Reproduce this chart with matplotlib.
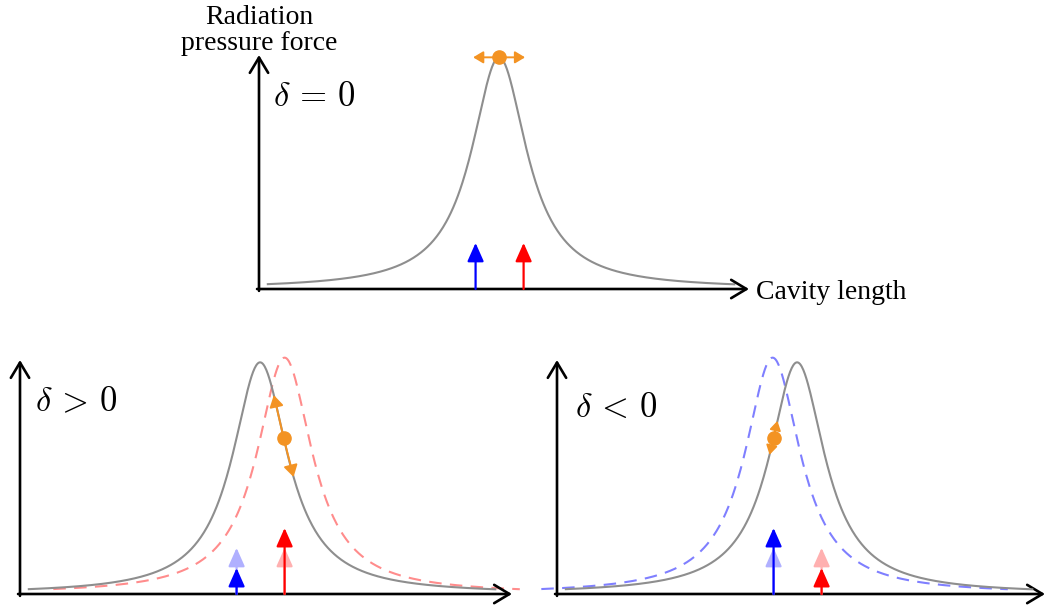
import numpy as np
import matplotlib
matplotlib.use("Agg")
import matplotlib.pyplot as plt

# ---------------- data ----------------
W, H = 1046, 609
PX_PER_UNIT = 49.0          # horizontal scale of each panel
# Lorentzian resonance parameters (data units)
center = 4.9
half_width = 0.69
peak_gray = 0.99
peak_shifted = 1.01
shift_pos = 0.5            # delta > 0 : resonance shifted right
shift_neg = -0.5           # delta < 0 : resonance shifted left
curve_span = (0.18, 9.7)   # x-range of the gray curve
# laser / sideband arrow positions (data units)
blue_x = 4.42
red_x = 5.40
arrow_base = 0.197         # unperturbed arrow height
# delta>0: blue weaker, red stronger ; delta<0: opposite
arrows_pos = {"blue": 0.111, "red": 0.282}
arrows_neg = {"blue": 0.282, "red": 0.111}
# operating points (height on gray curve)
dot_level = 0.667
dot_span_pos = (0.85, 0.50)
dot_span_neg = (0.74, 0.595)
top_dot_dx = 0.53

ORANGE = "#F39323"
GRAY = "#8e8e8e"
BLUE = "#0000ff"
RED = "#ff0000"
LIGHT_BLUE = "#b0b0ff"
LIGHT_RED = "#ffb0b0"

plt.rcParams["mathtext.fontset"] = "cm"
plt.rcParams["font.family"] = ["Liberation Serif", "DejaVu Serif"]

fig = plt.figure(figsize=(W / 100, H / 100), dpi=100)


def px_axes(left, bottom, right, top):
    ax = fig.add_axes([left / W, 1 - bottom / H, (right - left) / W, (bottom - top) / H])
    ax.set_xlim(0, (right - left) / PX_PER_UNIT)
    ax.set_ylim(0, 1)
    ax.axis("off")
    return ax


def lorentz(x, x0, h):
    return h / (1 + ((x - x0) / half_width) ** 2)


def inv_right(level, x0, h):
    return x0 + half_width * np.sqrt(h / level - 1)


def draw_axes_arrows(ax):
    kw = dict(arrowstyle="->,head_length=0.5,head_width=0.3", lw=1.9, color="k",
              shrinkA=0, shrinkB=0, mutation_scale=22)
    ax.annotate("", xy=(1, 0), xytext=(-0.004, 0), xycoords="axes fraction", arrowprops=kw)
    ax.annotate("", xy=(0, 1), xytext=(0, -0.008), xycoords="axes fraction", arrowprops=kw)


def up_arrow(ax, x, h, color, z=4):
    ax.annotate("", xy=(x, h), xytext=(x, 0), xycoords="data",
                arrowprops=dict(arrowstyle="-|>,head_length=0.45,head_width=0.2",
                                lw=1.6, color=color, shrinkA=0, shrinkB=0,
                                mutation_scale=25), annotation_clip=False, zorder=z)


def orange_arrow(ax, start, end, scale=14):
    ax.annotate("", xy=end, xytext=start, xycoords="data",
                arrowprops=dict(arrowstyle="-|>,head_length=0.5,head_width=0.3",
                                lw=1.4, color=ORANGE, shrinkA=0, shrinkB=0,
                                mutation_scale=scale), annotation_clip=False, zorder=4)


x = np.linspace(curve_span[0], curve_span[1], 600)
DASH = (0, (6, 4))

# ---------------- top panel ----------------
ax0 = px_axes(259, 289, 749, 55)
draw_axes_arrows(ax0)
ax0.plot(x, lorentz(x, center, peak_gray), color=GRAY, lw=1.5, clip_on=False)
up_arrow(ax0, blue_x, arrow_base, BLUE)
up_arrow(ax0, red_x, arrow_base, RED)
orange_arrow(ax0, (center, peak_gray), (center - top_dot_dx, peak_gray), 12)
orange_arrow(ax0, (center, peak_gray), (center + top_dot_dx, peak_gray), 12)
ax0.plot([center], [peak_gray], "o", color=ORANGE, ms=9.5, clip_on=False, zorder=5)
ax0.text(0.028, 0.78, r"$\delta \, = \, 0$", fontsize=25, transform=ax0.transAxes, va="baseline")

fig.text(259 / W, 1 - 24 / H, "Radiation", ha="center", va="baseline", fontsize=20)
fig.text(259 / W, 1 - 50 / H, "pressure force", ha="center", va="baseline", fontsize=20)
fig.text(756 / W, 1 - 299 / H, "Cavity length", ha="left", va="baseline", fontsize=20)

# ---------------- bottom-left panel (delta > 0) ----------------
ax1 = px_axes(20, 594, 512, 360)
draw_axes_arrows(ax1)
ax1.plot(x, lorentz(x, center, peak_gray), color=GRAY, lw=1.5, clip_on=False, zorder=3)
xs = x + shift_pos
ax1.plot(xs, lorentz(xs, center + shift_pos, peak_shifted), color=RED, alpha=0.45,
         lw=1.5, ls=DASH, clip_on=False, zorder=2)
up_arrow(ax1, blue_x, arrow_base, LIGHT_BLUE, 3.5)
up_arrow(ax1, red_x, arrow_base, LIGHT_RED, 3.5)
up_arrow(ax1, blue_x, arrows_pos["blue"], BLUE, 3.8)
up_arrow(ax1, red_x, arrows_pos["red"], RED, 3.8)
xd = inv_right(dot_level, center, peak_gray)
for lvl in dot_span_pos:
    orange_arrow(ax1, (xd, dot_level), (inv_right(lvl, center, peak_gray), lvl))
ax1.plot([xd], [dot_level], "o", color=ORANGE, ms=9.5, zorder=5)
ax1.text(0.03, 0.78, r"$\delta \, > \, 0$", fontsize=25, transform=ax1.transAxes, va="baseline")

# ---------------- bottom-right panel (delta < 0) ----------------
ax2 = px_axes(557, 594, 1045, 360)
draw_axes_arrows(ax2)
ax2.plot(x, lorentz(x, center, peak_gray), color=GRAY, lw=1.5, clip_on=False, zorder=3)
xs = x + shift_neg
ax2.plot(xs, lorentz(xs, center + shift_neg, peak_shifted), color=BLUE, alpha=0.5,
         lw=1.5, ls=DASH, clip_on=False, zorder=2)
up_arrow(ax2, blue_x, arrow_base, LIGHT_BLUE, 3.5)
up_arrow(ax2, red_x, arrow_base, LIGHT_RED, 3.5)
up_arrow(ax2, blue_x, arrows_neg["blue"], BLUE, 3.8)
up_arrow(ax2, red_x, arrows_neg["red"], RED, 3.8)
xd = 2 * center - inv_right(dot_level, center, peak_gray)
for lvl in dot_span_neg:
    orange_arrow(ax2, (xd, dot_level), (2 * center - inv_right(lvl, center, peak_gray), lvl), 11)
ax2.plot([xd], [dot_level], "o", color=ORANGE, ms=9.5, zorder=5)
ax2.text(0.037, 0.755, r"$\delta \, < \, 0$", fontsize=25, transform=ax2.transAxes, va="baseline")

fig.savefig("out.png", dpi=100)
